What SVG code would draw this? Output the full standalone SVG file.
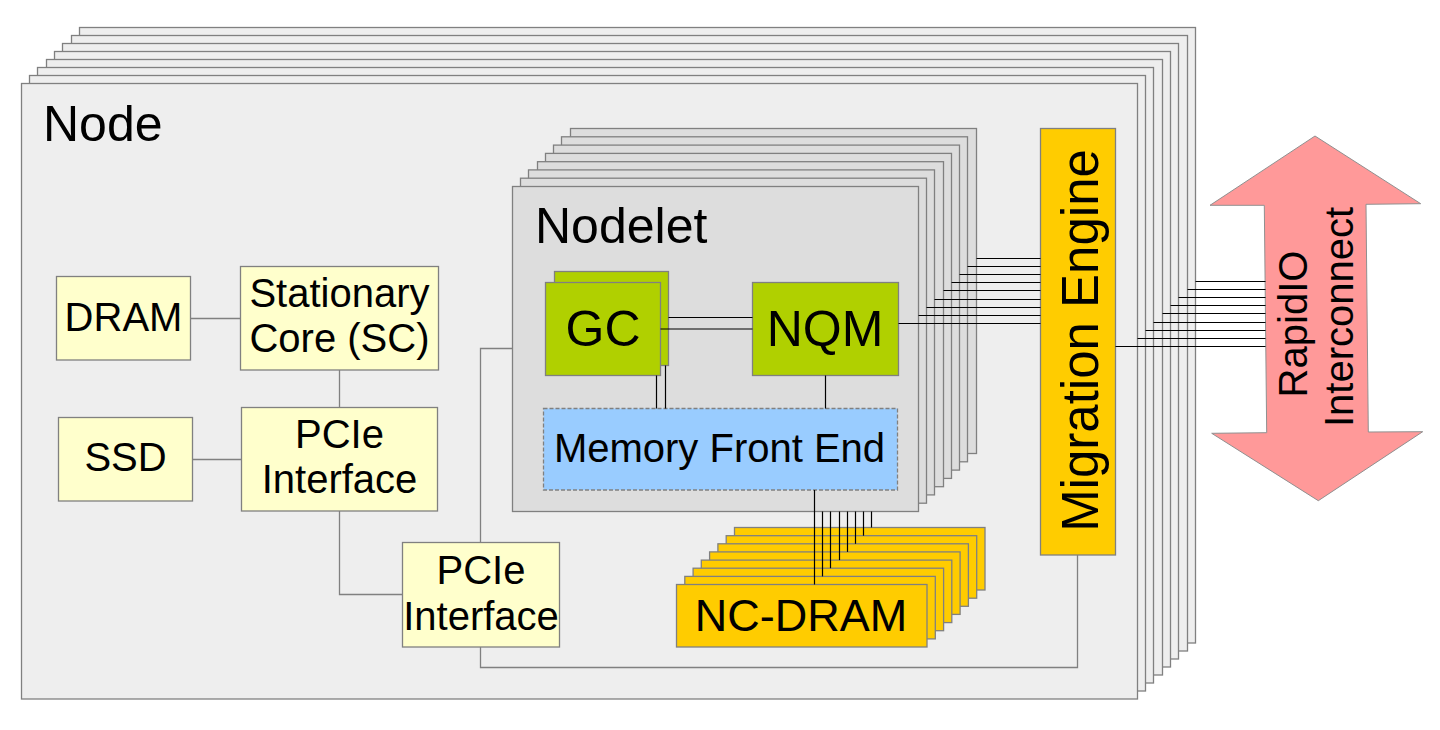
<svg xmlns="http://www.w3.org/2000/svg" width="1440" height="730" viewBox="0 0 1440 730">
  <style>
    .node{fill:#eeeeee;stroke:#808080;stroke-width:1.3}
    .nodelet{fill:#dddddd;stroke:#808080;stroke-width:1.3}
    .green{fill:#b0d000;stroke:#808080;stroke-width:1.3}
    .gold{fill:#ffcc00;stroke:#808080;stroke-width:1.3}
    .pale{fill:#ffffcc;stroke:#808080;stroke-width:1.3}
    .mfe{fill:#99ccff;stroke:#808080;stroke-width:1.3;stroke-dasharray:4 2}
    .arrow{fill:#ff9999;stroke:#909090;stroke-width:1}
    .gl{fill:none;stroke:#808080;stroke-width:1.3}
    .bl{fill:none;stroke:#000000;stroke-width:1.2}
    text{font-family:"Liberation Sans",Arial,sans-serif;fill:#000000}
    .t50{font-size:50px}
    .t40{font-size:40px}
    .t45{font-size:45px}
    .t51{font-size:51px}
    .c{text-anchor:middle}
  </style>

  <g id="node-stack">
    <rect class="node" x="79.5" y="27.5" width="1116" height="615.5"/>
    <rect class="node" x="71.5" y="35.5" width="1116" height="615.5"/>
    <rect class="node" x="62.5" y="43.5" width="1116" height="615.5"/>
    <rect class="node" x="54.5" y="51.5" width="1116" height="615.5"/>
    <rect class="node" x="46.5" y="59.5" width="1116" height="615.5"/>
    <rect class="node" x="37.5" y="67.5" width="1116" height="615.5"/>
    <rect class="node" x="29.5" y="75.5" width="1116" height="615.5"/>
    <rect class="node" x="21.5" y="83.5" width="1116" height="615.5"/>
    <text class="t50" x="43" y="141">Node</text>
  </g>

  <g id="nodelet-stack">
    <rect class="nodelet" x="570.5" y="128.5" width="406" height="325"/>
    <rect class="nodelet" x="561.5" y="136.8" width="406" height="325"/>
    <rect class="nodelet" x="553.5" y="145.1" width="406" height="325"/>
    <rect class="nodelet" x="545.5" y="153.4" width="406" height="325"/>
    <rect class="nodelet" x="537.5" y="161.7" width="406" height="325"/>
    <rect class="nodelet" x="528.5" y="169.9" width="406" height="325"/>
    <rect class="nodelet" x="520.5" y="178.2" width="406" height="325"/>
    <rect class="nodelet" x="512.5" y="186.5" width="406" height="325"/>
    <text class="t50" x="535" y="243">Nodelet</text>
  </g>

  <g id="gc">
    <rect class="green" x="554.5" y="271.5" width="114" height="94"/>
    <rect class="green" x="545.5" y="282.5" width="115" height="93"/>
    <text class="t50 c" x="603" y="346">GC</text>
  </g>

  <g id="nqm">
    <rect class="green" x="752.5" y="282.5" width="146" height="93"/>
    <text class="t50 c" x="825" y="346">NQM</text>
  </g>

  <g id="memory-front-end">
    <rect class="mfe" x="543.5" y="408.5" width="354" height="81.5"/>
    <text class="t40 c" x="719.5" y="462">Memory Front End</text>
  </g>

  <g id="nc-dram-stack">
    <rect class="gold" x="734.5" y="527.5" width="250.5" height="62.5"/>
    <rect class="gold" x="726.2" y="535.7" width="250.5" height="62.5"/>
    <rect class="gold" x="717.9" y="543.8" width="250.5" height="62.5"/>
    <rect class="gold" x="709.6" y="551.9" width="250.5" height="62.5"/>
    <rect class="gold" x="701.3" y="560.1" width="250.5" height="62.5"/>
    <rect class="gold" x="693.1" y="568.2" width="250.5" height="62.5"/>
    <rect class="gold" x="684.8" y="576.4" width="250.5" height="62.5"/>
    <rect class="gold" x="676.5" y="584.5" width="250.5" height="62.5"/>
    <text class="t45 c" x="801" y="631">NC-DRAM</text>
  </g>

  <g id="migration-engine">
    <rect class="gold" x="1040.5" y="128.5" width="75" height="426.5"/>
    <text class="t51 c" transform="translate(1098,340.5) rotate(-90)" x="0" y="0">Migration Engine</text>
  </g>

  <g id="dram">
    <rect class="pale" x="56.5" y="276.5" width="134" height="83.5"/>
    <text class="t40 c" x="123.5" y="331">DRAM</text>
  </g>

  <g id="stationary-core">
    <rect class="pale" x="240.5" y="266.5" width="198" height="103.5"/>
    <text class="t40 c" x="339.5" y="307">Stationary</text>
    <text class="t40 c" x="339.5" y="352">Core (SC)</text>
  </g>

  <g id="ssd">
    <rect class="pale" x="58.5" y="417.5" width="134" height="83.5"/>
    <text class="t40 c" x="125.5" y="471">SSD</text>
  </g>

  <g id="pcie-1">
    <rect class="pale" x="241.5" y="407.5" width="196" height="103.5"/>
    <text class="t40 c" x="339.5" y="448">PCIe</text>
    <text class="t40 c" x="339.5" y="493">Interface</text>
  </g>

  <g id="pcie-2">
    <rect class="pale" x="402.5" y="542.5" width="157" height="104.5"/>
    <text class="t40 c" x="481" y="584">PCIe</text>
    <text class="t40 c" x="481" y="630">Interface</text>
  </g>

  <g id="rapidio">
    <polygon class="arrow" points="1315,136 1420.7,203.7 1366,204.3 1368.3,432 1422.7,431.7 1318.3,500.7 1211.7,433.3 1266.7,432.7 1264.3,205.3 1210,205.3"/>
    <text class="t40 c" transform="translate(1307,324) rotate(-90)" x="0" y="0">RapidIO</text>
    <text class="t40 c" transform="translate(1353,317) rotate(-90)" x="0" y="0">Interconnect</text>
  </g>

  <g id="connectors">
    <!-- gray connectors -->
    <line class="gl" x1="190.5" y1="318.5" x2="240.5" y2="318.5"/>
    <line class="gl" x1="192.5" y1="459.5" x2="241.5" y2="459.5"/>
    <line class="gl" x1="339.5" y1="370" x2="339.5" y2="407.5"/>
    <polyline class="gl" points="339.5,511 339.5,594.5 402.5,594.5"/>
    <polyline class="gl" points="480.5,542.5 480.5,348.5 512.5,348.5"/>
    <polyline class="gl" points="480.5,647 480.5,667.5 1077.5,667.5 1077.5,555"/>

    <!-- GC / NQM / MFE -->
    <line class="bl" x1="668.5" y1="317.5" x2="752.5" y2="317.5"/>
    <line class="bl" x1="660.5" y1="329" x2="752.5" y2="329"/>
    <line class="bl" x1="656.5" y1="375.5" x2="656.5" y2="408.5"/>
    <line class="bl" x1="665.5" y1="365.5" x2="665.5" y2="408.5"/>
    <line class="bl" x1="825.5" y1="375.5" x2="825.5" y2="408.5"/>

    <!-- MFE / nodelets to NC-DRAM -->
    <line class="bl" x1="814.5" y1="490" x2="814.5" y2="584.5"/>
    <line class="bl" x1="822.5" y1="511.5" x2="822.5" y2="576.4"/>
    <line class="bl" x1="830.5" y1="511.5" x2="830.5" y2="568.2"/>
    <line class="bl" x1="839.5" y1="511.5" x2="839.5" y2="560.1"/>
    <line class="bl" x1="847.5" y1="511.5" x2="847.5" y2="551.9"/>
    <line class="bl" x1="855.5" y1="511.5" x2="855.5" y2="543.8"/>
    <line class="bl" x1="863.5" y1="511.5" x2="863.5" y2="535.7"/>
    <line class="bl" x1="871.5" y1="511.5" x2="871.5" y2="527.5"/>

    <!-- NQM / nodelets to Migration Engine -->
    <line class="bl" x1="898.5" y1="323.5" x2="1040.5" y2="323.5"/>
    <line class="bl" x1="918.5" y1="315.5" x2="1040.5" y2="315.5"/>
    <line class="bl" x1="926.5" y1="307.5" x2="1040.5" y2="307.5"/>
    <line class="bl" x1="934.5" y1="299.5" x2="1040.5" y2="299.5"/>
    <line class="bl" x1="943.5" y1="290.5" x2="1040.5" y2="290.5"/>
    <line class="bl" x1="951.5" y1="282.5" x2="1040.5" y2="282.5"/>
    <line class="bl" x1="959.5" y1="274.5" x2="1040.5" y2="274.5"/>
    <line class="bl" x1="967.5" y1="266.5" x2="1040.5" y2="266.5"/>
    <line class="bl" x1="976.5" y1="258.5" x2="1040.5" y2="258.5"/>

    <!-- Migration Engine / nodes to RapidIO -->
    <line class="bl" x1="1115.5" y1="346.5" x2="1265.5" y2="346.5"/>
    <line class="bl" x1="1137.5" y1="338.5" x2="1265.5" y2="338.5"/>
    <line class="bl" x1="1145.5" y1="330.5" x2="1265.5" y2="330.5"/>
    <line class="bl" x1="1153.5" y1="322.5" x2="1265.5" y2="322.5"/>
    <line class="bl" x1="1162.5" y1="313.5" x2="1265.5" y2="313.5"/>
    <line class="bl" x1="1170.5" y1="305.5" x2="1265.5" y2="305.5"/>
    <line class="bl" x1="1178.5" y1="297.5" x2="1265.5" y2="297.5"/>
    <line class="bl" x1="1187.5" y1="289.5" x2="1265.5" y2="289.5"/>
    <line class="bl" x1="1195.5" y1="281.5" x2="1265.5" y2="281.5"/>
  </g>
</svg>
